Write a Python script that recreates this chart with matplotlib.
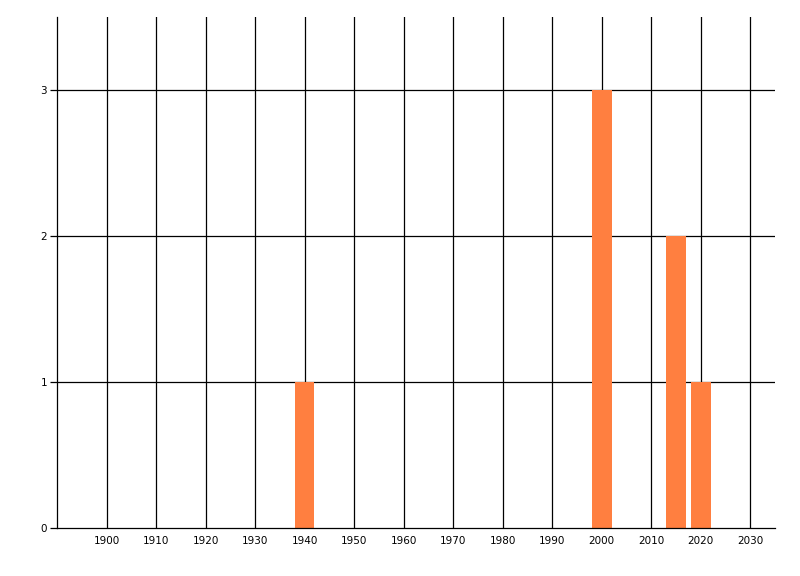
import matplotlib.pyplot as plt

years = [1940, 2000, 2015, 2020]
counts = [1, 3, 2, 1]
x_ticks = list(range(1900, 2031, 10))
y_ticks = [0, 1, 2, 3]

fig = plt.figure(figsize=(8, 5.76), dpi=100)
ax = fig.add_axes([57 / 800, 1 - 528 / 576, (775 - 57) / 800, (528 - 17) / 576])

# grid lines under the bars
for x in x_ticks:
    ax.axvline(x, color='black', lw=0.9, zorder=1)
for y in y_ticks[1:]:
    ax.axhline(y, color='black', lw=0.9, zorder=1)

ax.bar(years, counts, width=4, color='#ff7f40', zorder=2)

ax.set_xlim(1890, 2035)
ax.set_ylim(0, 3.5)
ax.set_xticks(x_ticks)
ax.set_yticks(y_ticks)
ax.tick_params(axis='x', length=0, pad=6, labelsize=7.5)
ax.tick_params(axis='y', length=5, width=0.9, pad=2, labelsize=7.5)
ax.spines['top'].set_visible(False)
ax.spines['right'].set_visible(False)
ax.spines['left'].set_linewidth(0.9)
ax.spines['bottom'].set_linewidth(0.9)

plt.savefig('out.png', dpi=100)
